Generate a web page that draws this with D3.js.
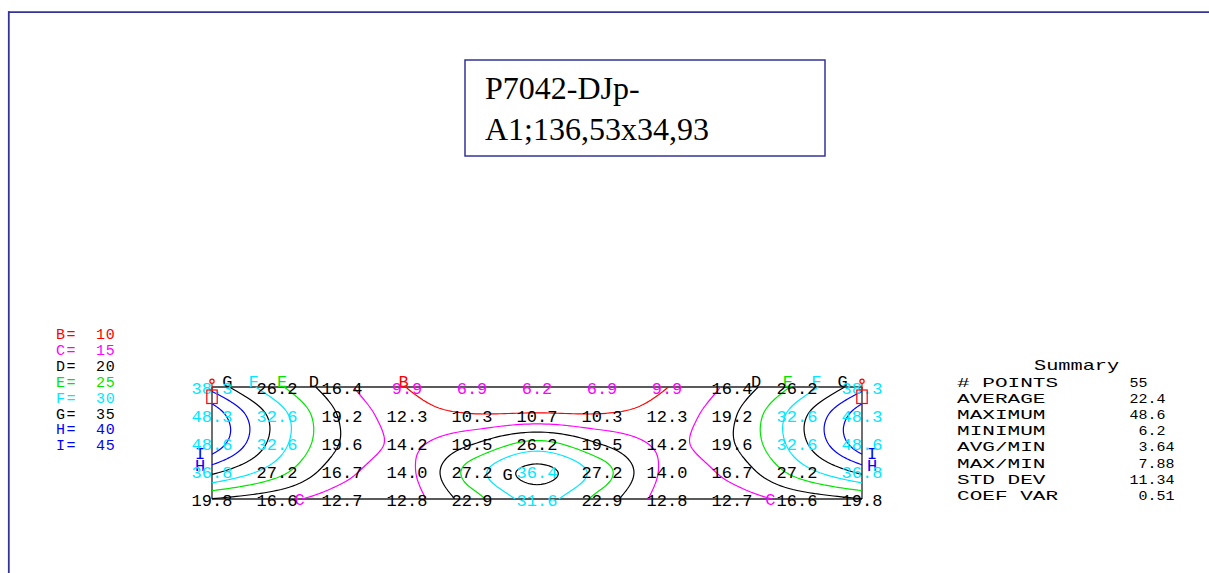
<!DOCTYPE html>
<html>
<head>
<meta charset="utf-8">
<script src="https://cdn.jsdelivr.net/npm/d3@7"></script>
<style>
  html, body { margin: 0; padding: 0; background: #ffffff; }
  svg { display: block; }
</style>
</head>
<body>
<svg id="chart" width="1209" height="573"></svg>
<script>
// Measured illuminance, 11 points across each of 5 rows (top row first)
const row1 = [38.3, 26.2, 16.4, 9.9, 6.9, 6.2, 6.9, 9.9, 16.4, 26.2, 38.3];
const row2 = [48.3, 32.6, 19.2, 12.3, 10.3, 10.7, 10.3, 12.3, 19.2, 32.6, 48.3];
const row3 = [48.6, 32.6, 19.6, 14.2, 19.5, 26.2, 19.5, 14.2, 19.6, 32.6, 48.6];
const row4 = [36.8, 27.2, 16.7, 14.0, 27.2, 36.4, 27.2, 14.0, 16.7, 27.2, 36.8];
const row5 = [19.8, 16.6, 12.7, 12.8, 22.9, 31.6, 22.9, 12.8, 12.7, 16.6, 19.8];
const gridRows = [row1, row2, row3, row4, row5];

// Iso-lines
const contourLevels  = [10, 15, 20, 25, 30, 35, 40, 45];
const contourLetters = ["B", "C", "D", "E", "F", "G", "H", "I"];
const contourColors  = ["#ff0000", "#ff00ff", "#000000", "#00e600", "#00e8ff", "#000000", "#0000ff", "#0000ff"];
const labelEdge      = ["top", "bottom", "top", "top", "top", "top", "side", "side"];

// Colour bands of the printed readings
const valueBreaks = [10, 30];
const valueColors = ["#ff00ff", "#000000", "#00e8ff"];

// Luminaires sit over these grid columns
const luminaireColumns = [0, 10];

// Statistics block
const summaryLabels = ["# POINTS", "AVERAGE", "MAXIMUM", "MINIMUM", "AVG/MIN", "MAX/MIN", "STD DEV", "COEF VAR"];
const summaryValues = ["55", "22.4", "48.6", "6.2", "3.64", "7.88", "11.34", "0.51"];

const titleLines = ["P7042-DJp-", "A1;136,53x34,93"];

const svg = d3.select("#chart");
const frameColor = "#333399";
const mono = "'Liberation Mono', 'DejaVu Sans Mono', monospace";

// Page frame
svg.append("line").attr("x1", 8).attr("x2", 1209).attr("y1", 12.2).attr("y2", 12.2)
  .attr("stroke", frameColor).attr("stroke-width", 1.8);
svg.append("line").attr("x1", 8.8).attr("x2", 8.8).attr("y1", 11.3).attr("y2", 573)
  .attr("stroke", frameColor).attr("stroke-width", 1.8);

// Title box
svg.append("rect").attr("x", 465).attr("y", 60).attr("width", 360).attr("height", 96)
  .attr("fill", "none").attr("stroke", frameColor).attr("stroke-width", 1.5);
svg.append("g").selectAll("text").data(titleLines).join("text")
  .attr("x", 485).attr("y", (d, i) => 99 + i * 41)
  .attr("font-family", "'Liberation Serif', 'Times New Roman', serif")
  .attr("font-size", 32).attr("fill", "#000").text(d => d);

// Scales for the calculation grid
const nCols = row1.length, nRows = gridRows.length;
const x = d3.scaleLinear().domain([0, nCols - 1]).range([212, 862]);
const y = d3.scaleLinear().domain([0, nRows - 1]).range([387, 499]);

// Padded grid (one ghost cell each side, linear extrapolation) for bicubic smoothing
const padded = [];
for (let r = 0; r < nRows; r++) {
  const src = gridRows[r];
  padded[r + 1] = [2 * src[0] - src[1], ...src, 2 * src[nCols - 1] - src[nCols - 2]];
}
padded[0] = padded[1].map((v, i) => 2 * v - padded[2][i]);
padded[nRows + 1] = padded[nRows].map((v, i) => 2 * v - padded[nRows - 1][i]);

function cubic(p0, p1, p2, p3, t) {
  return 0.5 * (2 * p1 + (-p0 + p2) * t + (2 * p0 - 5 * p1 + 4 * p2 - p3) * t * t +
    (-p0 + 3 * p1 - 3 * p2 + p3) * t * t * t);
}
function surface(u, v) {
  const c = Math.min(Math.floor(u), nCols - 2), tc = u - c;
  const r = Math.min(Math.floor(v), nRows - 2), tr = v - r;
  const col = [];
  for (let k = 0; k < 4; k++) {
    const rowArr = padded[r + k];
    col.push(cubic(rowArr[c], rowArr[c + 1], rowArr[c + 2], rowArr[c + 3], tc));
  }
  return cubic(col[0], col[1], col[2], col[3], tr);
}

const F = 16;
const nx = (nCols - 1) * F + 1, ny = (nRows - 1) * F + 1;
const field = new Float64Array(nx * ny);
for (let j = 0; j < ny; j++)
  for (let i = 0; i < nx; i++)
    field[j * nx + i] = surface(i / F, j / F);

const contours = d3.contours().size([nx, ny]).thresholds(contourLevels)(field);

const toUV = p => [(p[0] - 0.5) / F, (p[1] - 0.5) / F];
const outside = p => p[0] <= 0 || p[0] >= nx || p[1] <= 0 || p[1] >= ny;
const eps = 1e-6;
function edgeOf(uv) {
  if (uv[1] < eps) return "top";
  if (uv[1] > nRows - 1 - eps) return "bottom";
  if (uv[0] < eps) return "left";
  if (uv[0] > nCols - 1 - eps) return "right";
  return null;
}

// Split each ring into open iso-lines (drop the padding border) or closed loops
const isoLines = [];
contours.forEach((c, k) => {
  c.coordinates.forEach(polygon => polygon.forEach(ring => {
    const pts = ring.slice(0, ring.length - 1);
    const start = pts.findIndex(outside);
    if (start < 0) {
      isoLines.push({ k, closed: true, pts: pts.map(toUV) });
      return;
    }
    const rot = pts.slice(start).concat(pts.slice(0, start));
    let run = [];
    rot.concat([rot[0]]).forEach(p => {
      if (outside(p)) {
        if (run.length > 1) isoLines.push({ k, closed: false, pts: run.map(toUV) });
        run = [];
      } else run.push(p);
    });
  }));
});

const lineGen = d3.line().x(d => x(d[0])).y(d => y(d[1]));

// Grid border
const border = svg.append("g");
border.selectAll("line.h").data([0, nRows - 1]).join("line")
  .attr("x1", x(0)).attr("x2", x(nCols - 1)).attr("y1", d => y(d)).attr("y2", d => y(d))
  .attr("stroke", "#5a5a5a").attr("stroke-width", 2);
border.selectAll("line.v").data([0, nCols - 1]).join("line")
  .attr("x1", d => x(d)).attr("x2", d => x(d)).attr("y1", y(0)).attr("y2", y(nRows - 1))
  .attr("stroke", "#222").attr("stroke-width", 1.3);

// Iso-lines
svg.append("g").selectAll("path").data(isoLines).join("path")
  .attr("d", d => lineGen(d.pts) + (d.closed ? "Z" : ""))
  .attr("fill", "none")
  .attr("stroke", d => contourColors[d.k])
  .attr("stroke-width", 1.2);

// Iso-line letters
const letters = [];
isoLines.forEach(line => {
  const k = line.k;
  if (line.closed) {
    const lm = line.pts.reduce((a, b) => (b[0] < a[0] ? b : a));
    letters.push({ k, side: null, px: x(lm[0]) - 3, py: y(lm[1]) + 5.5, anchor: "end" });
    return;
  }
  const ends = [line.pts[0], line.pts[line.pts.length - 1]].map(p => ({ p, edge: edgeOf(p) }));
  if (ends.every(e => e.edge === "bottom")) return;
  const pref = labelEdge[k];
  const cands = ends.filter(e => pref === "side" ? (e.edge === "left" || e.edge === "right") : e.edge === pref);
  if (!cands.length) return;
  cands.sort(pref === "side" ? (a, b) => b.p[1] - a.p[1] : (a, b) => a.p[0] - b.p[0]);
  const e = cands[0];
  if (e.edge === "top") letters.push({ k, side: null, px: x(e.p[0]) - 2, py: y(0), anchor: "middle" });
  else if (e.edge === "bottom") letters.push({ k, side: null, px: x(e.p[0]) - 2, py: y(nRows - 1) + 5.5, anchor: "middle" });
  else if (e.edge === "left") letters.push({ k, side: "left", px: x(0) - 12, py: y(e.p[1]) + 5.5, anchor: "middle" });
  else letters.push({ k, side: "right", px: x(nCols - 1) + 10, py: y(e.p[1]) + 5.5, anchor: "middle" });
});
// Keep stacked side letters from touching
["left", "right"].forEach(s => {
  const group = letters.filter(d => d.side === s).sort((a, b) => a.py - b.py);
  for (let i = 1; i < group.length; i++) {
    const gap = group[i].py - group[i - 1].py;
    if (gap < 12) {
      const shift = (12 - gap) / 2;
      group[i - 1].py -= shift;
      group[i].py += shift;
    }
  }
});
svg.append("g").selectAll("text").data(letters).join("text")
  .attr("x", d => d.px).attr("y", d => d.py).attr("text-anchor", d => d.anchor)
  .attr("font-family", mono).attr("font-size", 17)
  .attr("fill", d => contourColors[d.k]).text(d => contourLetters[d.k]);

// Printed readings
const valueColor = d3.scaleThreshold().domain(valueBreaks).range(valueColors);
const cells = [];
gridRows.forEach((rowArr, r) => rowArr.forEach((v, c) => cells.push({ r, c, v })));
svg.append("g").selectAll("text").data(cells).join("text")
  .attr("x", d => x(d.c)).attr("y", d => y(d.r) + 6.5)
  .attr("text-anchor", "middle")
  .attr("font-family", mono).attr("font-size", 17)
  .attr("fill", d => valueColor(d.v))
  .text(d => d3.format(".1f")(d.v));

// Luminaire symbols
const lum = svg.append("g").attr("fill", "none").attr("stroke", "#ff0000").attr("stroke-width", 1.2);
luminaireColumns.forEach(c => {
  const cx = x(c);
  lum.append("rect").attr("x", cx - 5.2).attr("y", y(0) + 3).attr("width", 10.4).attr("height", 13.5);
  lum.append("line").attr("x1", cx).attr("x2", cx).attr("y1", y(0) - 3.6).attr("y2", y(0) + 3);
  lum.append("circle").attr("cx", cx).attr("cy", y(0) - 5.8).attr("r", 2.1);
});

// Legend
const legend = svg.append("g").attr("font-family", mono).attr("font-size", 15);
contourLevels.forEach((lv, k) => {
  const ly = 339 + k * 15.9;
  legend.append("text").attr("x", 56).attr("y", ly).attr("letter-spacing", 1.5)
    .attr("fill", contourColors[k]).text(contourLetters[k] + "=");
  legend.append("text").attr("x", 96).attr("y", ly).attr("letter-spacing", 0.8)
    .attr("fill", contourColors[k]).text(lv);
});

// Summary
const summary = svg.append("g").attr("font-family", mono).attr("fill", "#000");
summary.append("text").attr("transform", "translate(1034,370) scale(1.45,1)")
  .attr("font-size", 14).text("Summary");
summaryLabels.forEach((lab, i) => {
  const sy = 386.5 + i * 16.2;
  summary.append("text").attr("transform", `translate(957,${sy}) scale(1.62,1)`)
    .attr("font-size", 13).text(lab);
  const parts = summaryValues[i].split(".");
  summary.append("text").attr("transform", `translate(1147.5,${sy}) scale(1.15,1)`)
    .attr("font-size", 13).attr("text-anchor", "end").text(parts[0]);
  if (parts.length > 1)
    summary.append("text").attr("transform", `translate(1147.5,${sy}) scale(1.15,1)`)
      .attr("font-size", 13).attr("text-anchor", "start").text("." + parts[1]);
});
</script>
</body>
</html>
